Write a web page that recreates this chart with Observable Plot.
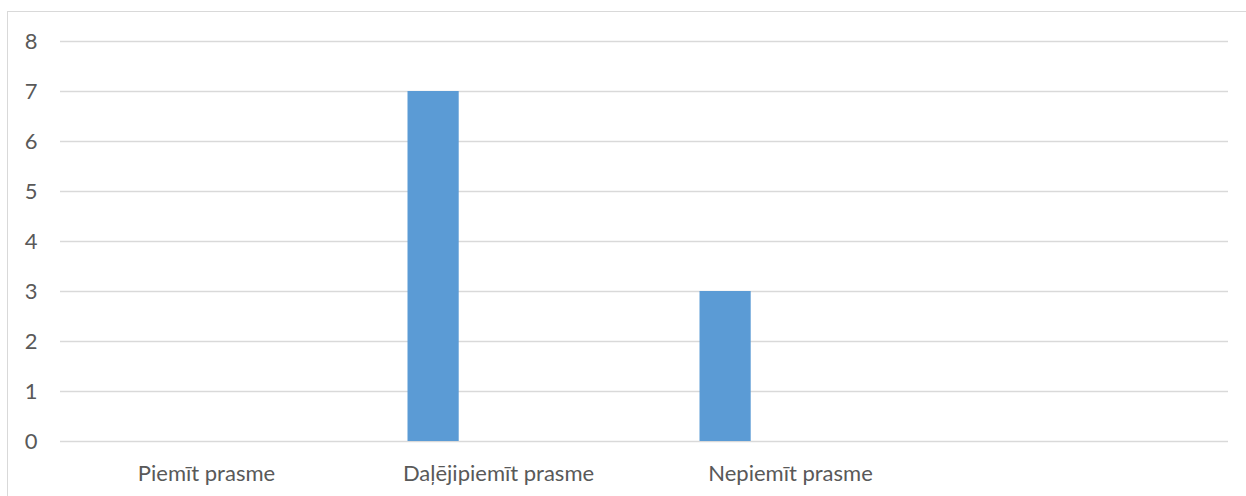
<!DOCTYPE html>
<html>
<head>
<meta charset="utf-8">
<script src="https://cdn.jsdelivr.net/npm/d3@7"></script>
<script src="https://cdn.jsdelivr.net/npm/@observablehq/plot@0.6"></script>
<style>
  html, body { margin: 0; padding: 0; background: #fff; }
  #wrap { position: relative; width: 1246px; height: 496px; overflow: hidden; }
  #border { position: absolute; left: 7px; top: 11px; width: 1300px; height: 600px;
            border-left: 1.5px solid #d9d9d9; border-top: 1.5px solid #d9d9d9; }
  #chart { position: absolute; left: 0; top: 0; }
</style>
</head>
<body>
<div id="wrap"><div id="border"></div><div id="chart"></div></div>
<script>
const categories = ["Piemīt prasme", "Daļējipiemīt prasme", "Nepiemīt prasme", " "];
const values = [0, 7, 3, 0];
const yTicks = [0, 1, 2, 3, 4, 5, 6, 7, 8];

const data = categories.map((c, i) => ({category: c, value: values[i]}));

const chart = Plot.plot({
  width: 1246,
  height: 496,
  marginLeft: 60,
  marginRight: 18,
  marginTop: 41,
  marginBottom: 55,
  style: {fontFamily: "Lato, sans-serif", fontSize: "22px", color: "#595959", background: "transparent"},
  x: {domain: categories, padding: 0, label: null},
  y: {domain: [0, 8], label: null},
  marks: [
    Plot.ruleY(yTicks, {stroke: "#d9d9d9", strokeWidth: 1.5}),
    Plot.barY(data.filter(d => d.value > 0), {x: "category", y: "value", fill: "#5b9bd5", insetLeft: 55.5, insetRight: 185.3}),
    Plot.axisY({ticks: yTicks, tickSize: 0, tickPadding: 23, fill: "#595959"}),
    Plot.axisX({tickSize: 0, tickPadding: 24, fill: "#595959"})
  ]
});
document.getElementById("chart").appendChild(chart);
</script>
</body>
</html>
